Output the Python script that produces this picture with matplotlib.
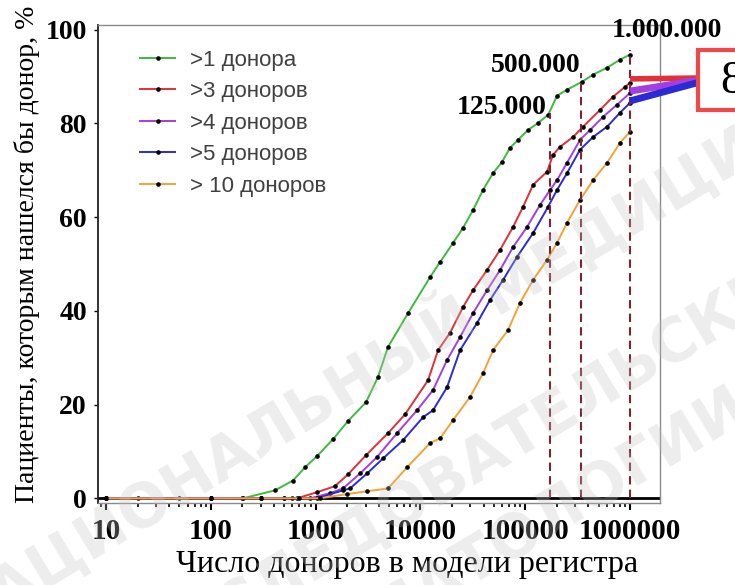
import matplotlib
matplotlib.use('Agg')
import matplotlib.pyplot as plt
from matplotlib.patches import Rectangle, ConnectionPatch
from matplotlib.ticker import LogLocator, NullFormatter, FixedLocator, FixedFormatter

# ---------------- data ----------------
donors_1 = [10, 20, 50, 100, 203, 410, 609, 792, 1031, 1465, 2038, 3027, 3939, 4907, 7620,
            12360, 15390, 20480, 25480, 31750, 39560, 49300, 60100, 71700, 85400, 106400,
            132500, 165100, 201000, 250600, 348600, 443700, 603700, 803600, 1000000]
pct_1 = [0, 0, 0, 0, 0, 1.7, 3.8, 6.6, 9.0, 12.6, 16.5, 20.5, 25.9, 32.3, 39.5,
         47.2, 50.4, 54.5, 57.7, 61.5, 65.8, 69.4, 71.8, 74.8, 76.5, 78.6,
         80.1, 81.8, 85.9, 87.2, 88.9, 90.4, 91.9, 93.6, 94.7]

donors_3 = [10, 100, 200, 300, 500, 664, 1031, 1531, 2038, 3027, 4907, 7130, 11830, 14730,
            19150, 25480, 31750, 43200, 57500, 76500, 95300, 118800, 161500, 184200,
            214800, 285600, 356300, 518000, 688000, 896000, 1000000]
pct_3 = [0, 0, 0, 0, 0, 0, 1.3, 2.6, 5.1, 9.2, 13.9, 17.9, 25.2, 31.6,
         35.3, 40.8, 44.4, 48.7, 53.0, 57.9, 62.2, 66.9, 69.7, 73.3,
         75.0, 77.1, 79.3, 82.9, 85.7, 87.8, 88.7]

donors_4 = [10, 100, 300, 500, 884, 1371, 1824, 2655, 3855, 5985, 9290, 13190, 17940, 23880,
            31750, 43200, 57500, 76500, 104000, 138300, 172600, 201000, 250600, 333500,
            415200, 552400, 751500, 1000000]
pct_4 = [0, 0, 0, 0, 0, 1.1, 2.1, 5.3, 8.8, 13.9, 18.8, 23.1, 29.5, 34.4,
         39.5, 44.4, 48.7, 53.6, 57.9, 62.6, 65.8, 67.9, 71.6, 76.5,
         78.6, 81.4, 84.0, 86.5]

donors_5 = [10, 100, 300, 600, 1031, 1824, 2128, 3092, 4395, 6820, 10590, 13190, 17940, 23880,
            34670, 46100, 61400, 83500, 118800, 165100, 201000, 250600, 333500, 443700,
            603700, 803600, 1000000]
pct_5 = [0, 0, 0, 0, 0, 1.7, 2.1, 5.3, 8.5, 12.4, 17.3, 18.8, 23.7, 31.6,
         37.4, 42.3, 46.6, 51.5, 56.6, 62.2, 65.8, 69.4, 74.4, 77.1,
         79.3, 82.3, 84.4]

donors_10 = [10, 100, 300, 700, 1101, 1995, 3092, 4907, 7450, 12360, 15390, 20480, 29700, 39560,
             49300, 68500, 89100, 118800, 161500, 201000, 250600, 333500, 443700, 603700,
             803600, 1000000]
pct_10 = [0, 0, 0, 0, 0, 0.9, 1.5, 2.1, 6.6, 11.8, 12.8, 16.7, 21.6, 26.7,
          31.6, 35.9, 41.7, 46.6, 50.9, 54.5, 58.8, 63.7, 67.9, 71.6,
          75.9, 78.2]

series_labels = ['>1 донора', '>3 доноров', '>4 доноров', '>5 доноров', '> 10 доноров']
series_colors = ['#3dbb3d', '#e03038', '#a43ee0', '#2b2bd6', '#f4a235']

registry_sizes = [172600, 340000, 1000000]
registry_tops = [82.3, 90.8, 95.6]
registry_labels = ['125.000', '500.000', '1.000.000']

x_ticks = [10, 100, 1000, 10000, 100000, 1000000]
x_ticklabels = ['10', '100', '1000', '10000', '100000', '1000000']
y_ticks = [0, 20, 40, 60, 80, 100]

x_title = 'Число доноров в модели регистра'
y_title = 'Пациенты, которым нашелся бы донор, %'
callout_text = '8'

# ---------------- figure ----------------
W, H = 735, 585
fig = plt.figure(figsize=(W / 100, H / 100), dpi=100)
ax = fig.add_axes([98 / W, 1 - 503 / H, (660 - 98) / W, (503 - 25) / H])

serif = 'Liberation Serif'
sans = 'Liberation Sans'

all_x = [donors_1, donors_3, donors_4, donors_5, donors_10]
all_y = [pct_1, pct_3, pct_4, pct_5, pct_10]
for xs, ys, lab, col in zip(all_x, all_y, series_labels, series_colors):
    ax.plot(xs, ys, color=col, lw=1.4, marker='o', ms=2.3,
            mfc='black', mec='black', label=lab, zorder=3)

for xv, top in zip(registry_sizes, registry_tops):
    ax.vlines(xv, 0, top, colors='#7a2434', linestyles=(0, (4, 2.5)), lw=1.5, zorder=4)

ax.text(registry_sizes[0] * 0.93, 83.5, registry_labels[0], ha='right', va='center',
        family=serif, weight='bold', fontsize=20)
ax.text(registry_sizes[1] * 0.99, 92.3, registry_labels[1], ha='right', va='center',
        family=serif, weight='bold', fontsize=20)
ax.text(registry_sizes[2] * 0.67, 99.8, registry_labels[2], ha='left', va='center',
        family=serif, weight='bold', fontsize=20, clip_on=False)

ax.set_xscale('log')
ax.set_xlim(8.39, 1.93e6)
ax.set_ylim(-1, 101)
ax.axhline(0, color='black', lw=2.0, zorder=2)

ax.xaxis.set_major_locator(FixedLocator(x_ticks))
ax.xaxis.set_major_formatter(FixedFormatter(x_ticklabels))
ax.xaxis.set_minor_locator(LogLocator(base=10, subs=range(2, 10), numticks=20))
ax.xaxis.set_minor_formatter(NullFormatter())
ax.set_yticks(y_ticks)

ax.tick_params(axis='x', which='major', length=5, width=1.5, direction='out', pad=6,
               labelsize=21)
ax.tick_params(axis='x', which='minor', length=3, width=1.2, direction='out')
ax.tick_params(axis='y', which='major', length=3, width=1.0, direction='out', pad=5,
               labelsize=20)
for lab in ax.get_xticklabels() + ax.get_yticklabels():
    lab.set_family(serif)
    lab.set_weight('bold')

for side in ['top', 'right', 'bottom']:
    ax.spines[side].set_color('#8a8a8a')
    ax.spines[side].set_linewidth(1.0)
ax.spines['left'].set_color('#222222')
ax.spines['left'].set_linewidth(1.3)

ax.set_xlabel(x_title, family=serif, fontsize=23)
ax.set_ylabel(y_title, family=serif, fontsize=20)
ax.xaxis.set_label_coords((407 - 98) / 562, (503 - 550) / 478)
ax.yaxis.set_label_coords((40 - 98) / 562, 0.52)

leg = ax.legend(loc='upper left', bbox_to_anchor=(0.04, 0.99), frameon=False,
                prop={'family': sans, 'size': 16}, handlelength=1.55,
                handletextpad=0.7, labelspacing=0.47, numpoints=1)
for t in leg.get_texts():
    t.set_color('#404040')

# callout box on the right (cut by the image edge)
box = Rectangle((698 / W, 1 - 110 / H), 80 / W, 60 / H, transform=fig.transFigure,
                facecolor='white', edgecolor='#f04848', lw=3, clip_on=False, zorder=20)
fig.patches.append(box)
fig.text(720 / W, 1 - 82 / H, callout_text, family=serif, fontsize=34,
         ha='left', va='center', zorder=21)

targets = [(700 / W, 1 - 78 / H), (700 / W, 1 - 80 / H), (700 / W, 1 - 82 / H)]
for idx, width in zip([1, 2, 3], [4, 5, 5]):
    xs, ys = all_x[idx], all_y[idx]
    cp = ConnectionPatch(xyA=(xs[-1], ys[-1] + (0.8 if idx == 1 else 0.4)), coordsA='data',
                         xyB=targets[idx - 1], coordsB='figure fraction',
                         axesA=ax, color=series_colors[idx], lw=width, zorder=19,
                         capstyle='butt')
    fig.add_artist(cp)

# watermark
wm = dict(family='DejaVu Sans', weight='bold', fontsize=43, color='#c4c4c4', alpha=0.3,
          rotation=31, rotation_mode='anchor', ha='left', va='baseline', zorder=30)
fig.text(-40 / W, 1 - 640 / H, 'НАЦИОНАЛЬНЫЙ МЕДИЦИНСКИЙ', **wm)
fig.text(150 / W, 1 - 680 / H, 'ИССЛЕДОВАТЕЛЬСКИЙ ЦЕНТР', **wm)
fig.text(310 / W, 1 - 680 / H, 'ГЕМАТОЛОГИИ', **wm)

fig.savefig('out.png', dpi=100)
